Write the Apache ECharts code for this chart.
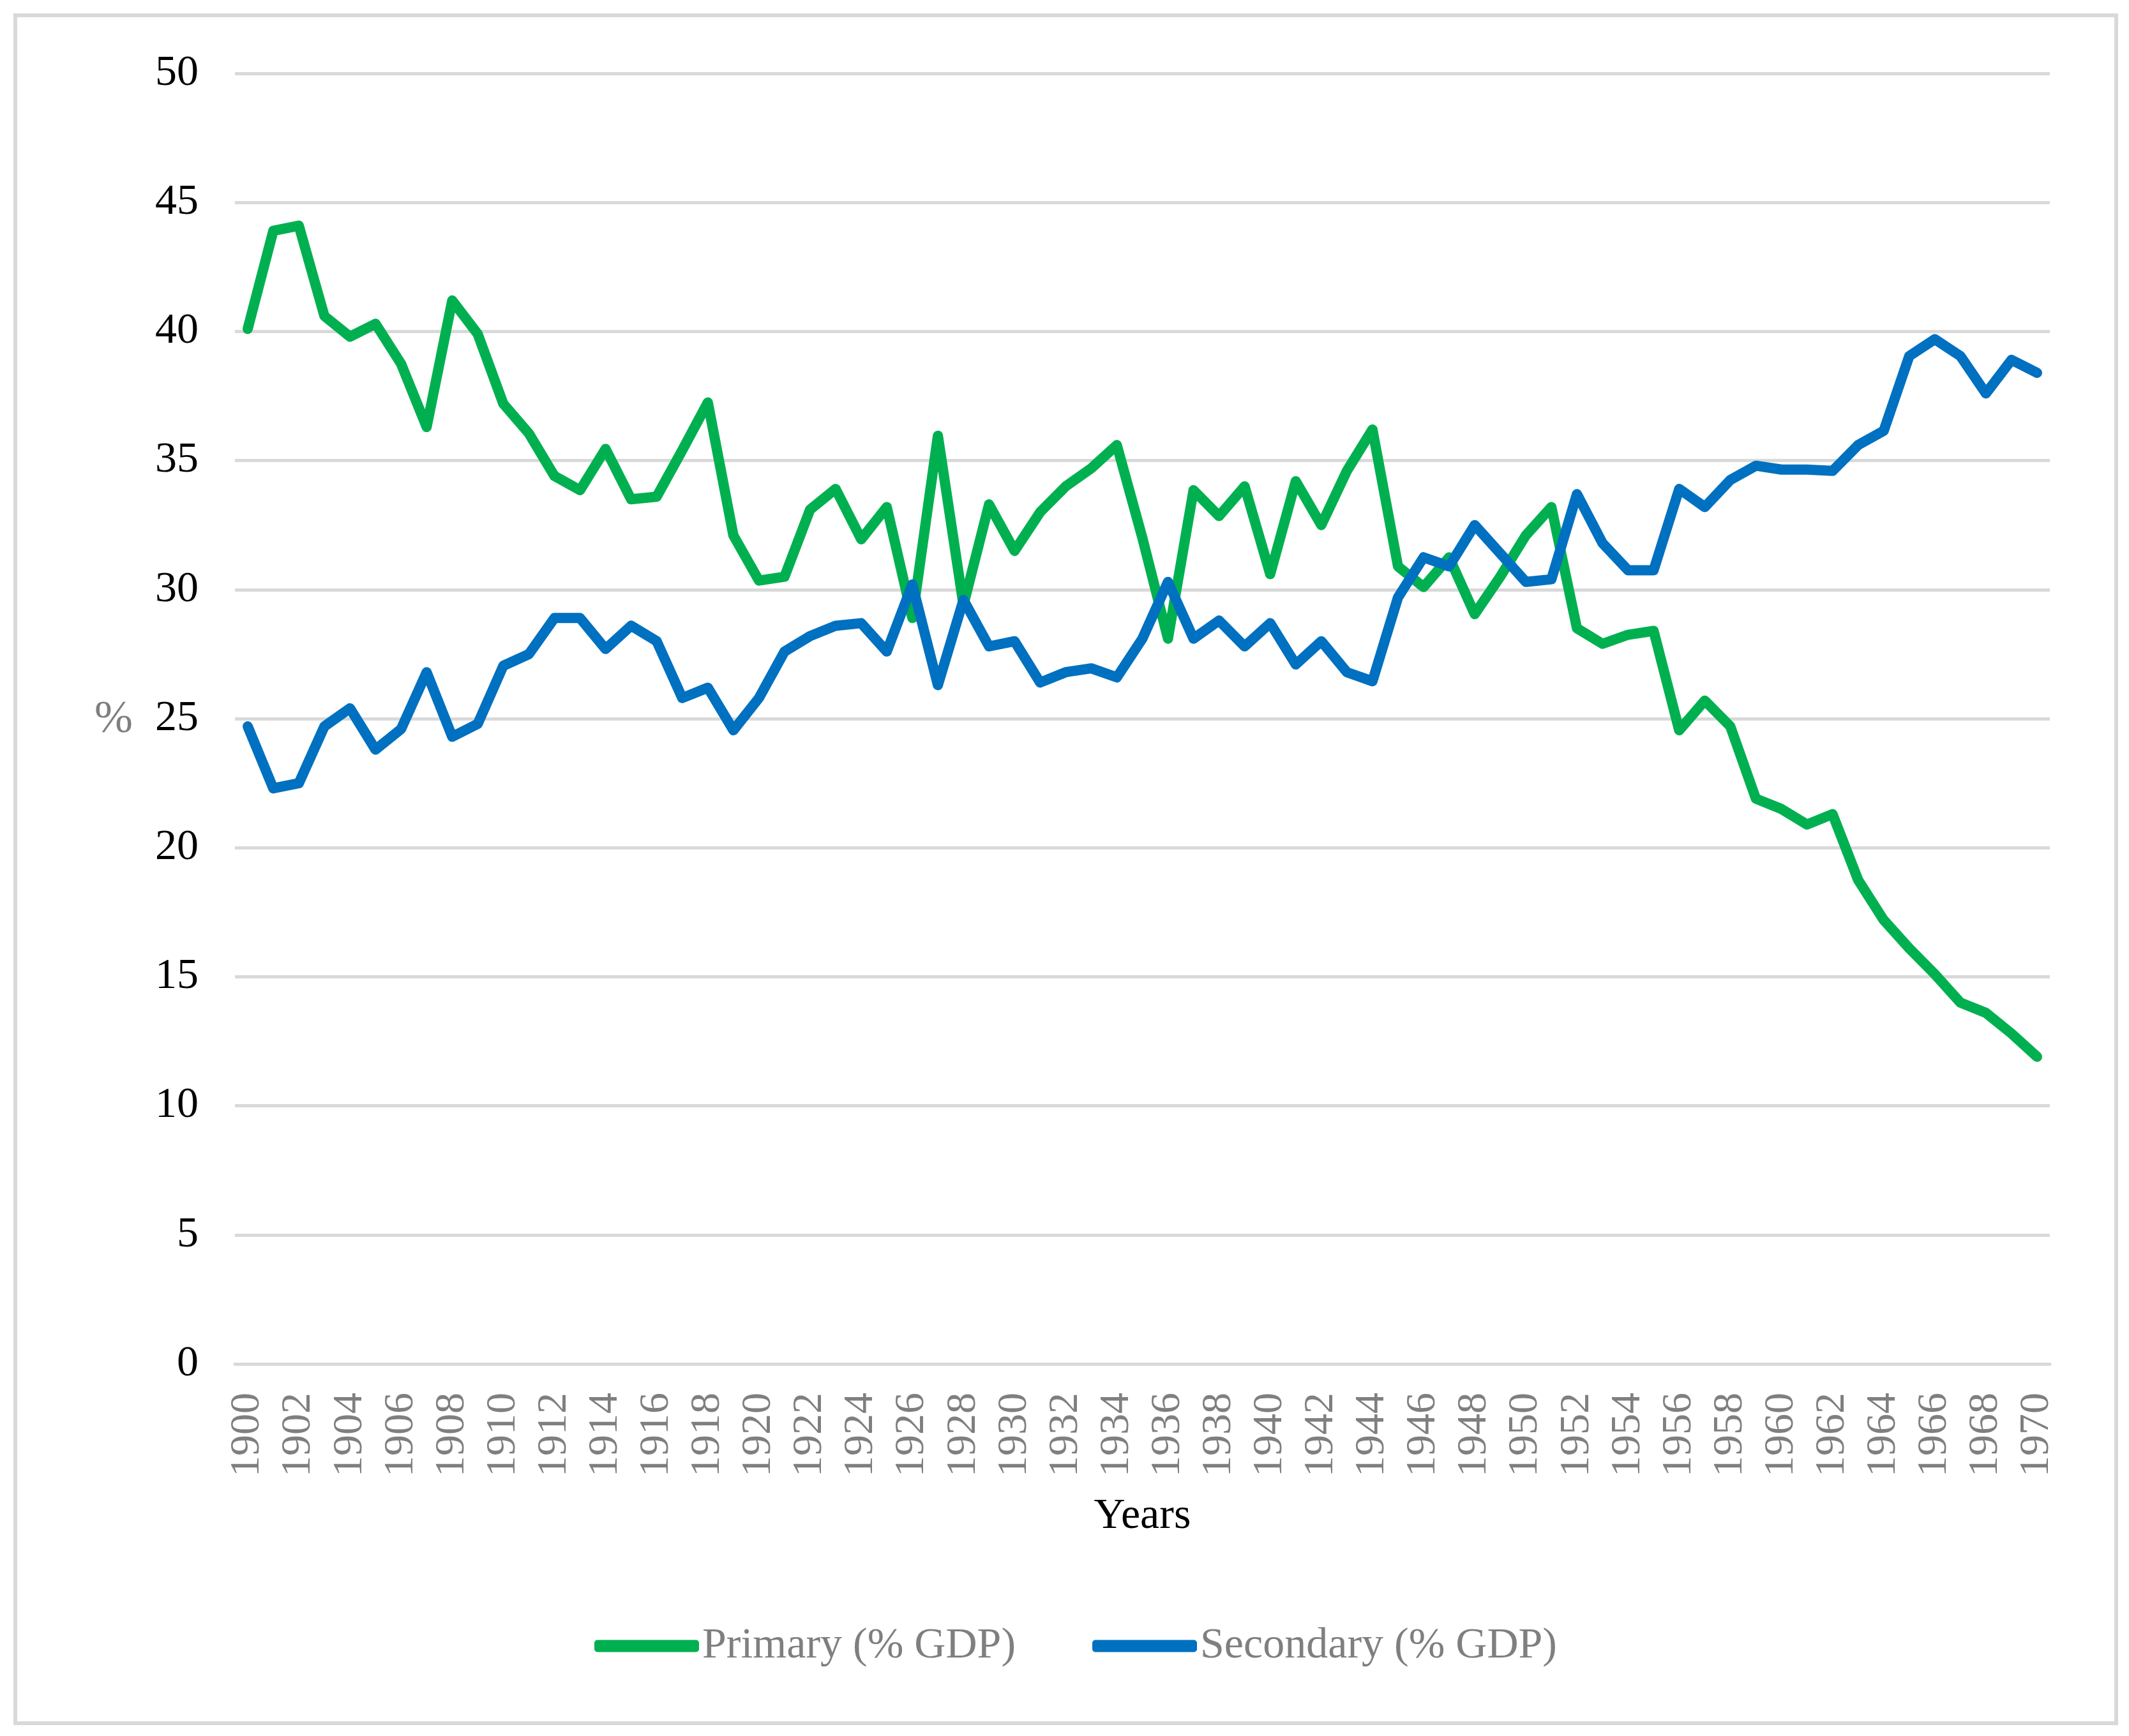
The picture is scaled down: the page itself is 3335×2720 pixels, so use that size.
<!DOCTYPE html>
<html>
<head>
<meta charset="utf-8">
<script src="https://cdn.jsdelivr.net/npm/echarts@6/dist/echarts.min.js"></script>
<style>
  html, body { margin: 0; padding: 0; background: #fff; }
  #chart { width: 3335px; height: 2720px; }
</style>
</head>
<body>
<div id="chart"></div>
<script>
const years = []
for (let y = 1900; y <= 1970; y++) years.push(String(y))

const primary = [
  40.1, 43.9, 44.1, 40.6, 39.8, 40.3, 38.75, 36.3, 41.2, 39.9,
  37.2, 36.05, 34.4, 33.85, 35.45, 33.5, 33.6, 35.4, 37.25, 32.1,
  30.35, 30.5, 33.1, 33.9, 31.95, 33.2, 28.9, 35.96, 29.4, 33.3,
  31.5, 33.0, 34.0, 34.7, 35.6, 32.0, 28.1, 33.85, 32.85, 34.0,
  30.6, 34.2, 32.5, 34.6, 36.2, 30.9, 30.1, 31.25, 29.05, 30.5,
  32.1, 33.2, 28.5, 27.9, 28.25, 28.4, 24.55, 25.7, 24.7, 21.9,
  21.5, 20.9, 21.3, 18.75, 17.2, 16.1, 15.1, 14.0, 13.6, 12.8,
  11.9
]

const secondary = [
  24.7, 22.3, 22.5, 24.7, 25.4, 23.8, 24.6, 26.8, 24.3, 24.8,
  27.05, 27.5, 28.9, 28.9, 27.7, 28.6, 28.0, 25.8, 26.2, 24.55,
  25.8, 27.6, 28.2, 28.6, 28.7, 27.6, 30.2, 26.3, 29.6, 27.8,
  28.0, 26.4, 26.8, 26.95, 26.6, 28.1, 30.3, 28.1, 28.8, 27.8,
  28.7, 27.1, 28.0, 26.8, 26.45, 29.7, 31.25, 30.9, 32.5, 31.4,
  30.3, 30.4, 33.7, 31.8, 30.75, 30.75, 33.9, 33.2, 34.25, 34.8,
  34.65, 34.65, 34.6, 35.6, 36.15, 39.05, 39.7, 39.05, 37.6, 38.9,
  38.4
]

const seriesNames = ['Primary (% GDP)', 'Secondary (% GDP)']
const seriesColors = ['#00b050', '#0070c0']

const font = '"Liberation Serif", "Times New Roman", serif'

const chart = echarts.init(document.getElementById('chart'))
chart.setOption({
  animation: false,
  backgroundColor: '#fff',
  textStyle: { fontFamily: font },
  grid: {
    left: 368,
    right: 124,
    top: 115,
    bottom: 583
  },
  legend: {
    left: 926,
    top: 2540,
    itemWidth: 164,
    itemHeight: 19,
    itemGap: 120,
    icon: 'roundRect',
    textStyle: { fontFamily: font, fontSize: 68, color: '#7f7f7f', padding: [0, 0, 0, 0] },
    data: seriesNames
  },
  xAxis: {
    type: 'category',
    data: years,
    boundaryGap: true,
    name: 'Years',
    nameLocation: 'middle',
    nameGap: 205,
    nameTextStyle: { fontFamily: font, fontSize: 68, color: '#000' },
    axisLine: { show: true, lineStyle: { color: '#d9d9d9', width: 5 } },
    axisTick: { show: false },
    axisLabel: {
      interval: 1,
      rotate: 90,
      margin: 45,
      fontFamily: font,
      fontSize: 66,
      color: '#7f7f7f'
    }
  },
  yAxis: {
    type: 'value',
    min: 0,
    max: 50,
    interval: 5,
    axisLine: { show: false },
    axisTick: { show: false },
    splitLine: { lineStyle: { color: '#d9d9d9', width: 5 } },
    axisLabel: { margin: 57, fontFamily: font, fontSize: 68, color: '#000' }
  },
  graphic: [
    {
      type: 'rect',
      left: 21,
      top: 21,
      shape: { width: 3291, height: 2676 },
      style: { fill: 'none', stroke: '#d9d9d9', lineWidth: 6 },
      silent: true
    },
    {
      type: 'text',
      left: 148,
      top: 1092,
      style: { text: '%', fontFamily: font, fontSize: 72, fill: '#7f7f7f' }
    }
  ],
  series: [
    {
      name: seriesNames[0],
      type: 'line',
      data: primary,
      symbol: 'none',
      color: seriesColors[0],
      lineStyle: { width: 16, color: seriesColors[0], cap: 'round', join: 'round' }
    },
    {
      name: seriesNames[1],
      type: 'line',
      data: secondary,
      symbol: 'none',
      color: seriesColors[1],
      lineStyle: { width: 16, color: seriesColors[1], cap: 'round', join: 'round' }
    }
  ]
})
</script>
</body>
</html>
